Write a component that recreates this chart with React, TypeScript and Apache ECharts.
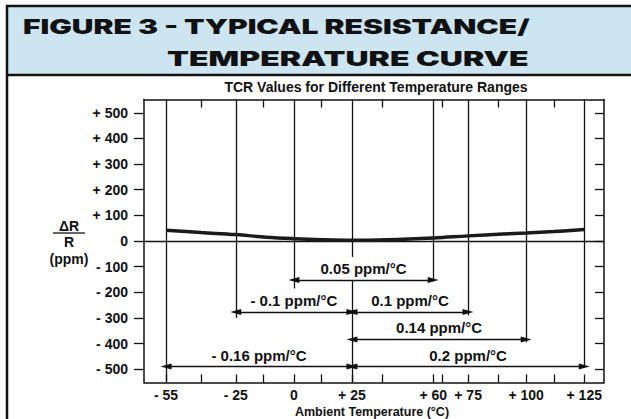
import React, { useEffect, useRef } from "react";
import * as echarts from "echarts";

const titleLine1 = "FIGURE 3 - TYPICAL RESISTANCE/";
const titleLine2 = "TEMPERATURE CURVE";
const subtitle = "TCR Values for Different Temperature Ranges";
const xAxisName = "Ambient Temperature (°C)";
const yNameTop = "ΔR";
const yNameBottom = "R";
const yNameUnit = "(ppm)";

const xLabelTemps = [-55, -25, 0, 25, 60, 75, 100, 125];
const xMinorTemps = [-40, -13, 12, 38, 64, 88, 112];
const yTickValues = [-500, -400, -300, -200, -100, 0, 100, 200, 300, 400, 500];

const curveTemps = [-55, -40, -25, -12, 0, 12, 25, 40, 60, 75, 90, 100, 112, 125];
const curvePpm = [42, 33, 25, 15, 9, 5, 3, 5, 12, 20, 27, 31, 37, 45];

const guideTemps = [-55, -25, 0, 25, 25, 60, 75, 100, 125];
const guideTop = [552, 552, 552, 552, -152, 552, 552, 552, 552];
const guideBottom = [-545, -300, -185, -62, -552, -152, -290, -395, -492];

const tcrLabels = ["0.05 ppm/°C", "- 0.1 ppm/°C", "0.1 ppm/°C", "0.14 ppm/°C", "- 0.16 ppm/°C", "0.2 ppm/°C"];
const tcrFrom = [0, -25, 25, 25, -55, 25];
const tcrTo = [60, 25, 75, 100, 25, 125];
const tcrLevel = [-152, -277, -277, -384, -490, -490];

const X_MIN = -64.5;
const X_MAX = 133.5;
const Y_MIN = -552;
const Y_MAX = 552;

const INK = "#111111";
const FONT = "'Liberation Sans', Arial, Helvetica, sans-serif";

const signed = (v: number) => (v > 0 ? `+ ${v}` : v < 0 ? `- ${-v}` : "0");

export default function App() {
  const ref = useRef<HTMLDivElement>(null);
  useEffect(() => {
    if (!ref.current) return;
    document.body.style.margin = "0";
    document.body.style.overflow = "hidden";
    document.documentElement.style.overflow = "hidden";
    const chart = echarts.init(ref.current, undefined, { renderer: "svg", width: 631, height: 419 });
    const boldText = { fontFamily: FONT, fontWeight: "bold" as const, color: INK };
    const option: any = {
      animation: false,
      backgroundColor: "#ffffff",
      grid: {
        left: 144,
        right: 27,
        top: 99.5,
        bottom: 36.5,
        containLabel: false,
        outerBoundsMode: "none",
      },
      xAxis: [
        {
          type: "value",
          position: "bottom",
          min: X_MIN,
          max: X_MAX,
          axisLine: { show: true, onZero: false, lineStyle: { color: INK, width: 1.5 } },
          axisTick: {
            show: true,
            inside: true,
            length: 8,
            customValues: [...xLabelTemps, ...xMinorTemps],
            lineStyle: { color: INK, width: 1.3 },
          },
          axisLabel: {
            customValues: xLabelTemps,
            formatter: (v: number) => signed(v),
            fontSize: 14,
            margin: 5,
            ...boldText,
          },
          splitLine: { show: false },
        },
        {
          type: "value",
          position: "top",
          min: X_MIN,
          max: X_MAX,
          axisLine: { show: true, onZero: false, lineStyle: { color: INK, width: 1.5 } },
          axisTick: {
            show: true,
            inside: true,
            length: 8,
            customValues: xMinorTemps,
            lineStyle: { color: INK, width: 1.3 },
          },
          axisLabel: { show: false },
          splitLine: { show: false },
        },
      ],
      yAxis: [
        {
          type: "value",
          position: "left",
          min: Y_MIN,
          max: Y_MAX,
          axisLine: { show: true, onZero: false, lineStyle: { color: INK, width: 1.5 } },
          axisTick: {
            show: true,
            inside: false,
            length: 10,
            customValues: yTickValues,
            lineStyle: { color: INK, width: 1.3 },
          },
          axisLabel: {
            customValues: yTickValues,
            formatter: (v: number) => signed(v),
            fontSize: 14,
            margin: 16,
            ...boldText,
          },
          splitLine: { show: false },
        },
        {
          type: "value",
          position: "right",
          min: Y_MIN,
          max: Y_MAX,
          axisLine: { show: true, onZero: false, lineStyle: { color: INK, width: 1.5 } },
          axisTick: {
            show: true,
            inside: true,
            length: 9,
            customValues: yTickValues,
            lineStyle: { color: INK, width: 1.3 },
          },
          axisLabel: { show: false },
          splitLine: { show: false },
        },
      ],
      series: [
        {
          type: "line",
          name: "guides",
          xAxisIndex: 0,
          yAxisIndex: 0,
          data: [],
          silent: true,
          markLine: {
            silent: true,
            symbol: "none",
            label: { show: false },
            lineStyle: { color: INK, width: 1.3, type: "solid" },
            data: [
              [{ coord: [X_MIN, 0] }, { coord: [X_MAX, 0] }],
              ...guideTemps.map((t, i) => [
                { coord: [t, guideTop[i]] },
                { coord: [t, guideBottom[i]] },
              ]),
            ],
          },
        },
        {
          type: "line",
          name: "ranges",
          xAxisIndex: 0,
          yAxisIndex: 0,
          data: [],
          silent: true,
          markLine: {
            silent: true,
            symbol: ["triangle", "triangle"],
            symbolSize: [6, 11],
            lineStyle: { color: INK, width: 1.3, type: "solid" },
            label: {
              show: true,
              position: "insideMiddleTop",
              formatter: "{b}",
              distance: 4,
              fontSize: 15,
              ...boldText,
            },
            data: tcrLabels.map((name, i) => [
              { name, coord: [tcrFrom[i], tcrLevel[i]] },
              { coord: [tcrTo[i], tcrLevel[i]] },
            ]),
          },
        },
        {
          type: "line",
          name: "TCR curve",
          xAxisIndex: 0,
          yAxisIndex: 0,
          data: curveTemps.map((t, i) => [t, curvePpm[i]]),
          smooth: 0.4,
          showSymbol: false,
          symbol: "none",
          lineStyle: { color: "#1a1a1a", width: 3.5 },
          z: 5,
        },
      ],
      graphic: [
        {
          type: "rect",
          shape: { x: 7, y: 6, width: 624, height: 69 },
          style: { fill: "#cde4f1" },
          z: 1,
        },
        {
          type: "line",
          shape: { x1: 6, y1: 6, x2: 631, y2: 6 },
          style: { stroke: INK, lineWidth: 2.5 },
          z: 2,
        },
        {
          type: "line",
          shape: { x1: 6, y1: 75, x2: 631, y2: 75 },
          style: { stroke: INK, lineWidth: 2.5 },
          z: 2,
        },
        {
          type: "line",
          shape: { x1: 7, y1: 5, x2: 7, y2: 419 },
          style: { stroke: INK, lineWidth: 2.5 },
          z: 2,
        },
        {
          type: "text",
          x: 23,
          y: 27,
          scaleX: 1.5,
          style: {
            text: titleLine1,
            fill: INK,
            font: `900 20px Inter, ${FONT}`,
            verticalAlign: "middle",
          },
          z: 3,
        },
        {
          type: "text",
          x: 167,
          y: 59,
          scaleX: 1.6,
          style: {
            text: titleLine2,
            fill: INK,
            font: `900 20px Inter, ${FONT}`,
            verticalAlign: "middle",
          },
          z: 3,
        },
        {
          type: "text",
          x: 376,
          y: 87,
          style: {
            text: subtitle,
            fill: INK,
            font: `bold 14px ${FONT}`,
            align: "center",
            verticalAlign: "middle",
          },
        },
        {
          type: "text",
          x: 372,
          y: 412,
          style: {
            text: xAxisName,
            fill: INK,
            font: `bold 12.5px ${FONT}`,
            align: "center",
            verticalAlign: "middle",
          },
        },
        {
          type: "text",
          x: 69,
          y: 226,
          style: { text: yNameTop, fill: INK, font: `bold 14px ${FONT}`, align: "center", verticalAlign: "middle" },
        },
        {
          type: "line",
          shape: { x1: 53, y1: 233, x2: 85, y2: 233 },
          style: { stroke: INK, lineWidth: 1.3 },
        },
        {
          type: "text",
          x: 69,
          y: 242,
          style: { text: yNameBottom, fill: INK, font: `bold 14px ${FONT}`, align: "center", verticalAlign: "middle" },
        },
        {
          type: "text",
          x: 69,
          y: 259,
          style: { text: yNameUnit, fill: INK, font: `bold 14px ${FONT}`, align: "center", verticalAlign: "middle" },
        },
      ],
    };
    chart.setOption(option);
    return () => chart.dispose();
  }, []);
  return (
    <div
      ref={ref}
      style={{ position: "fixed", left: 0, top: 0, width: 631, height: 419, background: "#fff" }}
    />
  );
}
